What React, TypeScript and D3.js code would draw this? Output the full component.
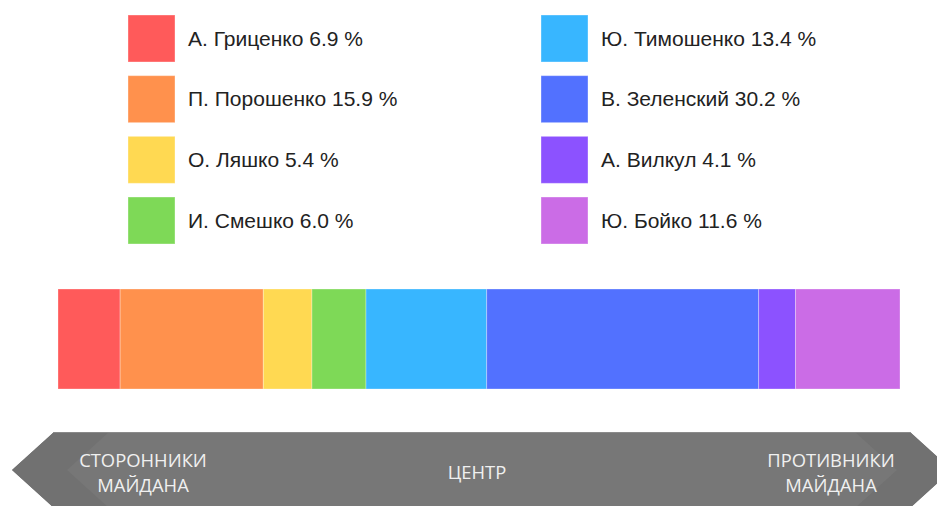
import React from "react";
import * as d3 from "d3";

const candidates = [
  "А. Гриценко",
  "П. Порошенко",
  "О. Ляшко",
  "И. Смешко",
  "Ю. Тимошенко",
  "В. Зеленский",
  "А. Вилкул",
  "Ю. Бойко",
];
const shares = [6.9, 15.9, 5.4, 6.0, 13.4, 30.2, 4.1, 11.6];
const colors = [
  "#ff5a5a",
  "#ff914d",
  "#ffd952",
  "#7ed957",
  "#38b6ff",
  "#5271ff",
  "#8c52ff",
  "#cb6ce6",
];
const axisLabels = [
  ["СТОРОННИКИ", "МАЙДАНА"],
  ["ЦЕНТР"],
  ["ПРОТИВНИКИ", "МАЙДАНА"],
];

const W = 937;
const H = 506;

export default function App() {
  const total = d3.sum(shares);
  const x = d3.scaleLinear().domain([0, total]).range([58, 900]);
  const cum = shares.map((_, i) => d3.sum(shares.slice(0, i)));

  const rowY = d3.scaleLinear().domain([0, 3]).range([15, 197]);
  const colX = [128, 541];

  const barTop = 289;
  const barH = 100;

  // arrow geometry
  const aTop = 432;
  const aMid = 470;
  const aBot = 508;
  const tipDx = 42;
  const leftTop = 54;
  const rightTop = 910;
  const inset = 55;

  const outline = `M${leftTop},${aTop} L${rightTop},${aTop} L${rightTop + tipDx},${aMid} L${rightTop},${aBot} L${leftTop},${aBot} L${leftTop - tipDx},${aMid} Z`;
  const leftHead = `M${leftTop},${aTop} L${leftTop + inset},${aTop} L${leftTop + inset - tipDx},${aMid} L${leftTop + inset},${aBot} L${leftTop},${aBot} L${leftTop - tipDx},${aMid} Z`;
  const rightHead = `M${rightTop},${aTop} L${rightTop - inset},${aTop} L${rightTop - inset + tipDx},${aMid} L${rightTop - inset},${aBot} L${rightTop},${aBot} L${rightTop + tipDx},${aMid} Z`;

  const labelX = [143, 477, 831];

  return (
    <svg
      width={W}
      height={H}
      style={{ position: "absolute", left: 0, top: 0, background: "#fff" }}
    >
      {/* legend */}
      {candidates.map((name, i) => {
        const col = Math.floor(i / 4);
        const row = i % 4;
        const y = rowY(row);
        return (
          <g key={name}>
            <rect
              x={colX[col]}
              y={y}
              width={47}
              height={47}
              fill={colors[i]}
              stroke="#fff"
              strokeOpacity={0.35}
              strokeWidth={1}
            />
            <text
              x={colX[col] + 60}
              y={y + 30.5}
              fontFamily="'Liberation Sans', Arial, sans-serif"
              fontSize={21}
              fill="#222"
            >
              {`${name} ${shares[i].toFixed(1)} %`}
            </text>
          </g>
        );
      })}

      {/* stacked bar */}
      {shares.map((v, i) => (
        <rect
          key={i}
          x={x(cum[i])}
          y={barTop}
          width={x(cum[i] + v) - x(cum[i])}
          height={barH}
          fill={colors[i]}
          stroke="#fff"
          strokeOpacity={0.3}
          strokeWidth={1}
        />
      ))}

      {/* arrow */}
      <path d={outline} fill="#777777" />
      <path d={leftHead} fill="#717171" />
      <path d={rightHead} fill="#717171" />
      <line x1={leftTop} x2={rightTop} y1={aTop + 0.5} y2={aTop + 0.5} stroke="#999" strokeOpacity={0.6} />

      {axisLabels.map((lines, i) => (
        <text
          key={i}
          textAnchor="middle"
          fontFamily="'Open Sans', sans-serif"
          fontSize={18.4}
          fill="#f0f0f0"
        >
          {lines.length === 1 ? (
            <tspan x={labelX[i]} y={479}>
              {lines[0]}
            </tspan>
          ) : (
            lines.map((l, j) => (
              <tspan key={j} x={labelX[i]} y={467 + j * 25}>
                {l}
              </tspan>
            ))
          )}
        </text>
      ))}
    </svg>
  );
}
